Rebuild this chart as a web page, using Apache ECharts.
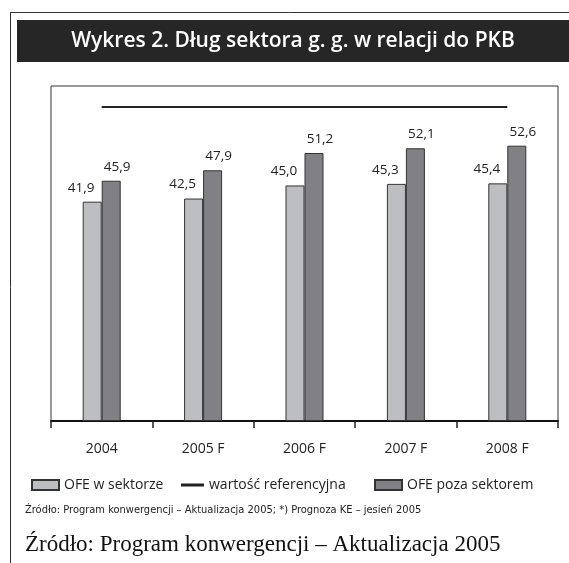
<!DOCTYPE html>
<html>
  <head>
    <meta charset="utf-8">
    <title>Wykres 2</title>
    <script src="https://cdn.jsdelivr.net/npm/echarts@6/dist/echarts.min.js"></script>
    <style>
      html, body { margin: 0; padding: 0; background: #fff; }
    </style>
  </head>
  <body>
    <div id="chart" style="width: 569px; height: 563px;"></div>
    <script type="text/javascript">
      var categories = ['2004', '2005 F', '2006 F', '2007 F', '2008 F'];
      var ofeWSektorze = [41.9, 42.5, 45.0, 45.3, 45.4];
      var ofePozaSektorem = [45.9, 47.9, 51.2, 52.1, 52.6];
      var wartoscReferencyjna = [60, 60, 60, 60, 60];

      var textColor = '#222';
      var sansFont = '"Open Sans", sans-serif';

      function fmt(p) {
        return p.value.toFixed(1).replace('.', ',');
      }

      var chart = echarts.init(document.getElementById('chart'));

      var legendText = { color: textColor, fontSize: 14, fontFamily: sansFont };

      chart.setOption({
        backgroundColor: '#fff',
        animation: false,
        grid: {
          left: 51, right: 11, top: 86, bottom: 142,
          show: true, borderColor: '#333', borderWidth: 1
        },
        xAxis: {
          type: 'category',
          data: categories,
          axisLine: { lineStyle: { color: '#111', width: 2 } },
          axisTick: { show: true, length: 7, lineStyle: { color: '#222', width: 1.5 } },
          axisLabel: { color: textColor, fontSize: 14, fontFamily: sansFont, margin: 21 },
          splitLine: { show: false }
        },
        yAxis: {
          type: 'value',
          min: 0, max: 64,
          show: false,
          splitLine: { show: false }
        },
        legend: [
          { data: [{ name: 'OFE w sektorze', icon: 'rect' }], left: 31, top: 478, padding: 0,
            itemWidth: 27, itemHeight: 10, textStyle: legendText },
          { data: [{ name: 'wartość referencyjna', icon: 'rect' }], left: 181, top: 478, padding: 0,
            itemWidth: 23, itemHeight: 3, textStyle: legendText },
          { data: [{ name: 'OFE poza sektorem', icon: 'rect' }], left: 374, top: 478, padding: 0,
            itemWidth: 27, itemHeight: 10, textStyle: legendText }
        ],
        series: [
          {
            name: 'OFE w sektorze',
            type: 'bar',
            data: ofeWSektorze,
            barWidth: 19,
            barGap: '0%',
            itemStyle: { color: '#bdbec2', borderColor: '#333', borderWidth: 1 },
            label: {
              show: true, position: 'top', distance: 7, offset: [-11, 0],
              color: textColor, fontSize: 13.5, fontFamily: sansFont, formatter: fmt
            }
          },
          {
            name: 'OFE poza sektorem',
            type: 'bar',
            data: ofePozaSektorem,
            barWidth: 19,
            itemStyle: { color: '#808085', borderColor: '#333', borderWidth: 1 },
            label: {
              show: true, position: 'top', distance: 7, offset: [6, 0],
              color: textColor, fontSize: 13.5, fontFamily: sansFont, formatter: fmt
            }
          },
          {
            name: 'wartość referencyjna',
            type: 'line',
            data: wartoscReferencyjna,
            symbol: 'none',
            itemStyle: { color: '#222' },
            lineStyle: { color: '#222', width: 2 }
          }
        ],
        graphic: [
          { type: 'line', shape: { x1: 10, y1: 12.5, x2: 569, y2: 12.5 }, style: { stroke: '#333', lineWidth: 1 } },
          { type: 'line', shape: { x1: 10.5, y1: 12, x2: 10.5, y2: 563 }, style: { stroke: '#333', lineWidth: 1 } },
          { type: 'rect', shape: { x: 17, y: 20, width: 552, height: 42 }, style: { fill: '#262626' } },
          {
            type: 'text', x: 293, y: 41,
            style: {
              text: 'Wykres 2. Dług sektora g. g. w relacji do PKB',
              fill: '#fff', font: '600 21px "Open Sans", sans-serif',
              align: 'center', verticalAlign: 'middle'
            }
          },
          {
            type: 'text', x: 25, y: 510,
            style: {
              text: 'Źródło: Program konwergencji – Aktualizacja 2005; *) Prognoza KE – jesień 2005',
              fill: textColor, font: '11px "DejaVu Sans Condensed", sans-serif',
              verticalAlign: 'middle'
            }
          },
          {
            type: 'text', x: 25, y: 545,
            style: {
              text: 'Źródło: Program konwergencji – Aktualizacja 2005',
              fill: '#111', font: '23px "Liberation Serif", serif',
              verticalAlign: 'middle'
            }
          }
        ]
      });
    </script>
  </body>
</html>
